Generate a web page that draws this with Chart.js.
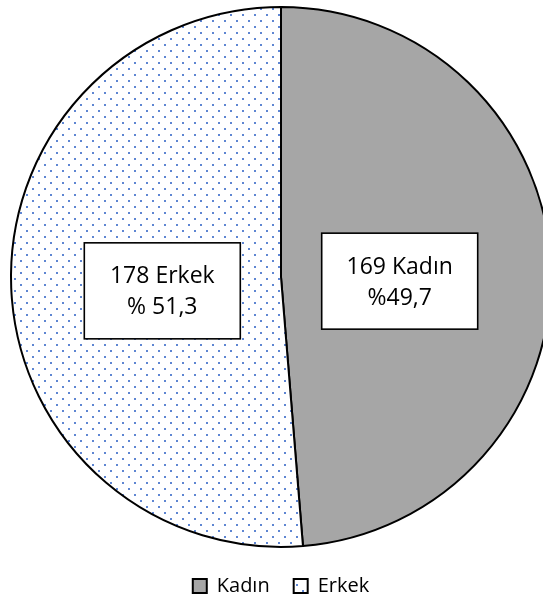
<!DOCTYPE html>
<html><head><meta charset="utf-8">
<script src="https://cdn.jsdelivr.net/npm/chart.js@4"></script>
<style>html,body{margin:0;padding:0;background:#fff}canvas{display:block}</style>
</head><body>
<canvas id="c" width="543" height="599"></canvas>
<script>
const categories = ['Kadın', 'Erkek'];
const counts = [169, 178];
const percentLabels = ['%49,7', '% 51,3'];

function dotPattern() {
  const t = document.createElement('canvas');
  t.width = 12; t.height = 12;
  const g = t.getContext('2d');
  g.fillStyle = '#ffffff'; g.fillRect(0, 0, 12, 12);
  g.fillStyle = '#5f86d2';
  g.fillRect(2, 2, 2, 2);
  g.fillRect(8, 8, 2, 2);
  return g.createPattern(t, 'repeat');
}

const labelBoxes = {
  id: 'labelBoxes',
  afterDatasetsDraw(chart) {
    const ctx = chart.ctx;
    const meta = chart.getDatasetMeta(0);
    meta.data.forEach((arc, i) => {
      const p = arc.getProps(['x', 'y', 'startAngle', 'endAngle', 'outerRadius'], true);
      const mid = (p.startAngle + p.endAngle) / 2;
      const d = p.outerRadius * 0.44;
      const cx = p.x + Math.cos(mid) * d;
      const cy = p.y + Math.sin(mid) * d + 9;
      const w = 156, h = 96;
      ctx.save();
      ctx.fillStyle = '#ffffff';
      ctx.fillRect(cx - w / 2, cy - h / 2, w, h);
      ctx.strokeStyle = '#000000';
      ctx.lineWidth = 1.6;
      ctx.strokeRect(cx - w / 2, cy - h / 2, w, h);
      ctx.fillStyle = '#000000';
      ctx.font = '23px "Open Sans"';
      ctx.textAlign = 'center';
      ctx.textBaseline = 'middle';
      ctx.fillText(counts[i] + ' ' + categories[i], cx, cy - 14);
      ctx.fillText(percentLabels[i], cx, cy + 17);
      ctx.restore();
    });
  }
};

new Chart(document.getElementById('c'), {
  type: 'pie',
  data: {
    labels: categories,
    datasets: [{
      data: counts,
      backgroundColor: ['#a6a6a6', dotPattern()],
      borderColor: '#000000',
      borderWidth: 2,
      radius: 270
    }]
  },
  options: {
    responsive: false,
    animation: false,
    layout: { padding: { top: 2, bottom: -7, left: 19, right: 0 } },
    plugins: {
      legend: {
        position: 'bottom',
        labels: {
          boxWidth: 14,
          boxHeight: 14,
          padding: 24,
          color: '#000000',
          font: { family: '"Open Sans"', size: 20 }
        }
      },
      tooltip: { enabled: false }
    }
  },
  plugins: [labelBoxes]
});
</script>
</body></html>
